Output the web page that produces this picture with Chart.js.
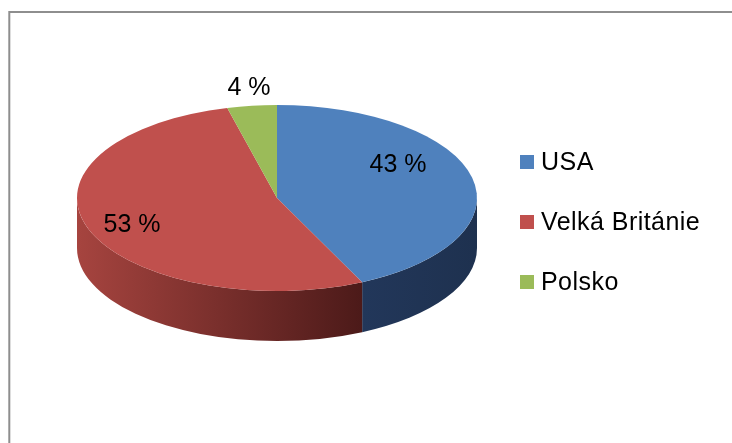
<!DOCTYPE html>
<html>
<head>
<meta charset="utf-8">
<script src="https://cdn.jsdelivr.net/npm/chart.js@4/dist/chart.umd.min.js"></script>
<style>
  html, body { margin: 0; padding: 0; background: #ffffff; }
  #wrap { position: relative; width: 732px; height: 443px; }
</style>
</head>
<body>
<div id="wrap"><canvas id="c" width="732" height="443"></canvas></div>
<script>
// ---- data ----
const categories = ['USA', 'Velká Británie', 'Polsko'];
const shares = [43, 53, 4];
const percentLabels = ['43 %', '53 %', '4 %'];

// ---- style ----
const topColors = ['#4F81BD', '#C0504D', '#9BBB59'];
const sideLight = ['#22375A', '#A6443F', '#7C9447'];
const sideDark = ['#1E314F', '#4C1A19', '#5C6E33'];
const PIE = { cx: 277, cy: 198, rx: 200, ry: 93, depth: 50 };
const labelRadial = [0.62, 0.77, 1.12];
const labelDy = [-20, 3, -7];
const FONT = '25px "Liberation Sans", Arial, sans-serif';

function visibleRanges(s, e) {
  const out = [];
  for (const off of [-2 * Math.PI, 0, 2 * Math.PI]) {
    const lo = Math.max(s, off), hi = Math.min(e, off + Math.PI);
    if (hi > lo) out.push([lo, hi]);
  }
  return out;
}

const pie3d = {
  id: 'pie3d',
  beforeDraw(chart) {
    const ctx = chart.ctx;
    ctx.save();
    ctx.strokeStyle = '#8E8E8E';
    ctx.lineWidth = 2;
    ctx.strokeRect(9.3, 12, 900, 600);
    ctx.restore();
  },
  beforeDatasetsDraw(chart) {
    const ctx = chart.ctx;
    const meta = chart.getDatasetMeta(0);
    const { cx, cy, rx, ry, depth } = PIE;
    meta.data.forEach((el, i) => {
      const p = el.getProps(['startAngle', 'endAngle'], true);
      visibleRanges(p.startAngle, p.endAngle).forEach(([lo, hi]) => {
        const xl = cx + rx * Math.cos(hi), xr = cx + rx * Math.cos(lo);
        const g = ctx.createLinearGradient(Math.min(xl, xr), 0, Math.max(xl, xr), 0);
        g.addColorStop(0, sideLight[i]);
        g.addColorStop(1, sideDark[i]);
        ctx.save();
        ctx.beginPath();
        ctx.ellipse(cx, cy, rx, ry, 0, lo, hi, false);
        ctx.ellipse(cx, cy + depth, rx, ry, 0, hi, lo, true);
        ctx.closePath();
        ctx.fillStyle = g;
        ctx.fill();
        ctx.restore();
      });
    });
    // squash the round pie into the ellipse of the top face
    const el0 = meta.data[0];
    ctx.save();
    ctx.translate(el0.x, el0.y);
    ctx.scale(rx / el0.outerRadius, ry / el0.outerRadius);
    ctx.translate(-el0.x, -el0.y);
  },
  afterDatasetsDraw(chart) {
    chart.ctx.restore();
  },
  afterDraw(chart) {
    const ctx = chart.ctx;
    const meta = chart.getDatasetMeta(0);
    const { cx, cy, rx, ry } = PIE;
    ctx.save();
    ctx.font = FONT;
    ctx.fillStyle = '#000000';
    ctx.textAlign = 'center';
    ctx.textBaseline = 'middle';
    meta.data.forEach((el, i) => {
      const mid = (el.startAngle + el.endAngle) / 2;
      const x = cx + rx * labelRadial[i] * Math.cos(mid);
      const y = cy + ry * labelRadial[i] * Math.sin(mid) + labelDy[i];
      ctx.fillText(percentLabels[i], x, y);
    });
    // legend
    ctx.textAlign = 'left';
    ctx.letterSpacing = '0.45px';
    categories.forEach((name, i) => {
      const y = 162 + i * 60;
      ctx.fillStyle = topColors[i];
      ctx.fillRect(520, y - 7, 14, 14);
      ctx.fillStyle = '#000000';
      ctx.fillText(name, 541, y + 1);
    });
    ctx.restore();
  }
};

new Chart(document.getElementById('c'), {
  type: 'pie',
  data: {
    labels: categories,
    datasets: [{
      data: shares,
      backgroundColor: topColors,
      borderWidth: 0,
      hoverOffset: 0,
      clip: false
    }]
  },
  options: {
    responsive: false,
    animation: false,
    events: [],
    layout: { padding: { left: 184, right: 362, top: 105, bottom: 152 } },
    plugins: {
      legend: { display: false },
      tooltip: { enabled: false }
    }
  },
  plugins: [pie3d]
});
</script>
</body>
</html>
